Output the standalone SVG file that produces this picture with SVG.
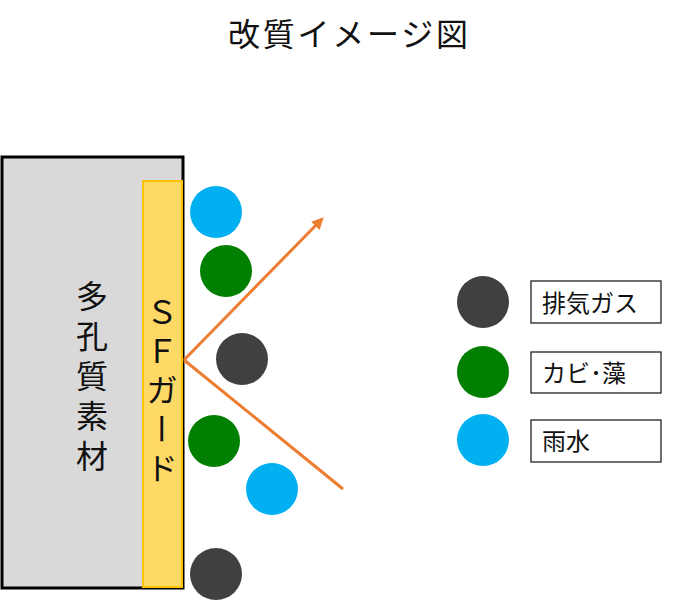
<svg xmlns="http://www.w3.org/2000/svg" width="683" height="600" viewBox="0 0 683 600">
<defs>
<style>
.t{font-family:"Noto Sans CJK JP","Noto Sans",sans-serif;fill:#111;}
.dark{fill:#404040;}
.green{fill:#007F00;}
.blue{fill:#00B0F0;}
.lbox{fill:#fff;stroke:#222;stroke-width:1.3;}
.ray{stroke:#ED7D31;stroke-width:3;fill:none;}
</style>
<marker id="ah" viewBox="0 0 10 10" refX="8" refY="5" markerWidth="4" markerHeight="4" orient="auto" markerUnits="strokeWidth">
<path d="M0,0 L10,5 L0,10 z" fill="#ED7D31"/>
</marker>
</defs>
<rect width="683" height="600" fill="#fff"/>
<text class="t" x="348" y="46" font-size="32" text-anchor="middle" textLength="240" lengthAdjust="spacing">改質イメージ図</text>
<g id="material">
<rect x="2" y="157" width="181" height="431" fill="#D9D9D9" stroke="#000" stroke-width="3"/>
<text class="t" x="92" y="280" font-size="32" style="writing-mode:vertical-rl" letter-spacing="8">多孔質素材</text>
</g>
<g id="sfguard">
<rect x="143" y="181" width="39" height="406" fill="#FFD966" stroke="#FFC000" stroke-width="2"/>
<text class="t" x="162" y="296" font-size="32" style="writing-mode:vertical-rl" letter-spacing="7">ＳＦガード</text>
</g>
<g id="particles">
<circle class="blue" cx="216" cy="212" r="26"/>
<circle class="green" cx="226" cy="271" r="26"/>
<circle class="dark" cx="242" cy="359" r="26"/>
<circle class="green" cx="214" cy="441" r="26"/>
<circle class="blue" cx="272" cy="489" r="26"/>
<circle class="dark" cx="216" cy="574" r="26"/>
</g>
<g id="connectors">
<path class="ray" d="M184,360 L322,219" marker-end="url(#ah)"/>
<path class="ray" d="M184,360 L343,489"/>
</g>
<g id="legend-exhaust">
<circle class="dark" cx="483" cy="302" r="26"/>
<rect class="lbox" x="531" y="281" width="130" height="42"/>
<text class="t" x="542" y="312" font-size="24">排気ガス</text>
</g>
<g id="legend-mold">
<circle class="green" cx="483" cy="372" r="26"/>
<rect class="lbox" x="531" y="352" width="130" height="41"/>
<text class="t" x="542" y="382" font-size="24">カビ･藻</text>
</g>
<g id="legend-rain">
<circle class="blue" cx="483" cy="440" r="26"/>
<rect class="lbox" x="531" y="420" width="130" height="42"/>
<text class="t" x="542" y="450" font-size="24">雨水</text>
</g>
</svg>
